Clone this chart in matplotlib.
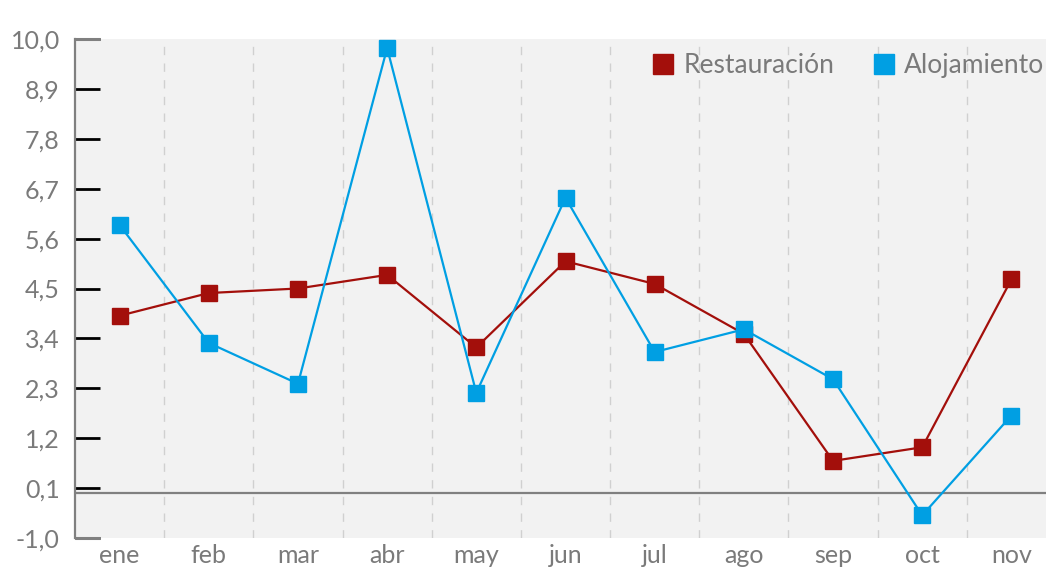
import matplotlib
matplotlib.use('Agg')
import matplotlib.pyplot as plt

MONTHS = ['ene', 'feb', 'mar', 'abr', 'may', 'jun', 'jul', 'ago', 'sep', 'oct', 'nov']
RESTAURACION = [3.9, 4.4, 4.5, 4.8, 3.2, 5.1, 4.6, 3.5, 0.7, 1.0, 4.7]
ALOJAMIENTO = [5.9, 3.3, 2.4, 9.8, 2.2, 6.5, 3.1, 3.6, 2.5, -0.5, 1.7]
Y_TICKS = [-1.0, 0.1, 1.2, 2.3, 3.4, 4.5, 5.6, 6.7, 7.8, 8.9, 10.0]

RED = '#a30f0b'
BLUE = '#009fe3'
TEXT = '#7a7a7a'
GREY = '#808080'

plt.rcParams['font.family'] = ['Lato', 'DejaVu Sans']

fig = plt.figure(figsize=(10.46, 5.72), dpi=100)
ax = fig.add_axes([75 / 1046, 34 / 572, 981 / 1046, 499 / 572])
ax.set_facecolor('#f2f2f2')

x = list(range(len(MONTHS)))
ax.plot(x, RESTAURACION, color=RED, lw=1.6, marker='s', ms=11.5, label='Restauración', zorder=3)
ax.plot(x, ALOJAMIENTO, color=BLUE, lw=1.6, marker='s', ms=11.5, label='Alojamiento', zorder=3)

# category separators
for b in range(len(MONTHS) - 1):
    ax.axvline(b + 0.5, color='#d0d0d0', lw=1, ls=(0, (6, 6)), zorder=1)
ax.axhline(0, color=GREY, lw=1.6, zorder=2)

ax.set_xlim(-0.5, len(MONTHS) - 0.5)
ax.set_ylim(-1.0, 10.0)
ax.set_xticks(x)
ax.set_xticklabels(MONTHS)
ax.set_yticks(Y_TICKS)
ax.set_yticklabels([f'{v:.1f}'.replace('.', ',') for v in Y_TICKS])

for s in ['top', 'right', 'bottom']:
    ax.spines[s].set_visible(False)
ax.spines['left'].set_color(GREY)
ax.spines['left'].set_linewidth(1.6)

ax.tick_params(axis='y', direction='in', length=18, width=2, color='black',
               labelsize=18, labelcolor=TEXT, pad=11)
ax.tick_params(axis='x', length=0, labelsize=18, labelcolor=TEXT, pad=4)

# grey end caps at top and bottom of the axis
trans = ax.get_yaxis_transform()
for yv in (Y_TICKS[0], Y_TICKS[-1]):
    ax.plot([0, 25 / 981], [yv, yv], transform=trans, color=GREY, lw=2.2,
            clip_on=False, zorder=5, solid_capstyle='butt')

leg = ax.legend(loc='upper right', bbox_to_anchor=(1068 / 1046, 543 / 572), bbox_transform=fig.transFigure,
                ncol=2, frameon=False, fontsize=19, handlelength=0.8, handletextpad=0.35,
                columnspacing=1.5, labelcolor=TEXT, markerscale=1.3)
for h in leg.legend_handles:
    h.set_linestyle('none')

fig.savefig('out.png', dpi=100)
